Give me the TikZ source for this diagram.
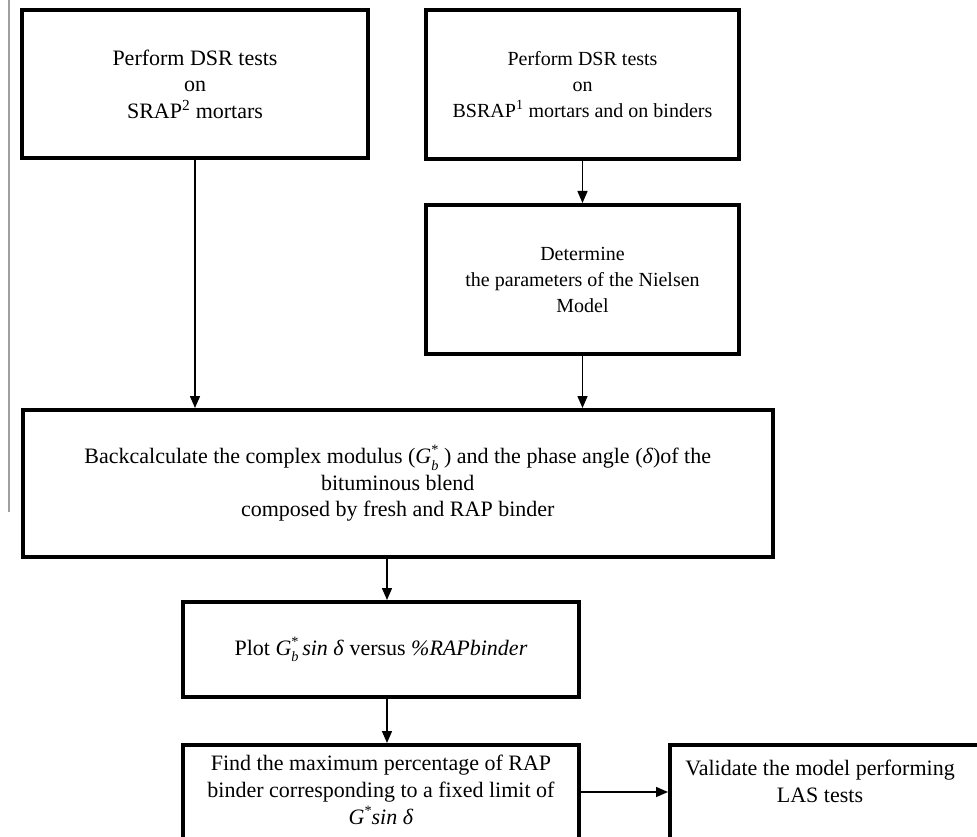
\documentclass[tikz,border=0pt]{standalone}
\usepackage{fontspec}
\setmainfont{Liberation Serif}
\usetikzlibrary{arrows.meta}
\newcommand{\Gstarb}{\textit{G}\rlap{\raisebox{0.42em}{\fontsize{0.65em}{0.7em}\selectfont *}}\raisebox{-0.28em}{\fontsize{0.65em}{0.7em}\selectfont\textit{b}}}
\newcommand{\Gstar}{\textit{G}\raisebox{0.42em}{\fontsize{0.65em}{0.7em}\selectfont *}}
\begin{document}
\begin{tikzpicture}[x=1pt,y=-1pt,
  box/.style={draw, line width=4pt, inner sep=0pt, align=center, font=\fontsize{20}{26}\selectfont},
  bigbox/.style={box, font=\fontsize{22}{26.5}\selectfont},
  txt/.style={inner sep=0pt, align=center, font=\fontsize{22}{27}\selectfont},
  arr/.style={line width=1.5pt, -{Triangle[length=12pt,width=10pt]}}]
\useasboundingbox (0,0) rectangle (977,837);
\fill[white] (0,0) rectangle (977,837);
\clip (0,0) rectangle (977,837);
\draw[gray!75, line width=1.5pt] (9,0) -- (9,512);
\node[bigbox, minimum width=346pt, minimum height=148pt] (b1) at (195,84)
  {Perform DSR tests\\on\\SRAP\textsuperscript{2} mortars};
\node[box, minimum width=313pt, minimum height=149pt] (b2) at (582.5,84.5)
  {Perform DSR tests\\on\\BSRAP\textsuperscript{1} mortars and on binders};
\node[box, minimum width=313pt, minimum height=149pt] (b3) at (582.5,279.5)
  {Determine\\ the parameters of the Nielsen\\Model};
\node[bigbox, minimum width=750pt, minimum height=147pt] (b4) at (397.75,483.5)
  {Backcalculate the complex modulus (\Gstarb\ ) and the phase angle (\textit{δ})of the\\bituminous blend\\composed by fresh and RAP binder};
\node[bigbox, minimum width=396pt, minimum height=95pt] (b5) at (381,649.5)
  {Plot \Gstarb\,\textit{sin δ} versus \textit{\%RAPbinder}};
\node[box, minimum width=396pt, minimum height=150pt] (b6) at (381,820) {};
\node[txt] (t6) at (381,790)
  {Find the maximum percentage of RAP\\binder corresponding to a fixed limit of\\\Gstar\textit{sin δ}};
\node[box, minimum width=320pt, minimum height=150pt] (b7) at (830,820) {};
\node[txt] (t7) at (820,781) {Validate the model performing\\LAS tests};
\coordinate (c45) at (387,0);
\coordinate (c67) at (0,792);
\draw[arr] (b1.south) -- (b1.south |- b4.north);
\draw[arr] (b2.south) -- (b3.north);
\draw[arr] (b3.south) -- (b3.south |- b4.north);
\draw[arr] (b4.south -| c45) -- (b5.north -| c45);
\draw[arr] (b5.south -| c45) -- (b6.north -| c45);
\draw[arr] (b6.east |- c67) -- (b7.west |- c67);
\end{tikzpicture}
\end{document}
